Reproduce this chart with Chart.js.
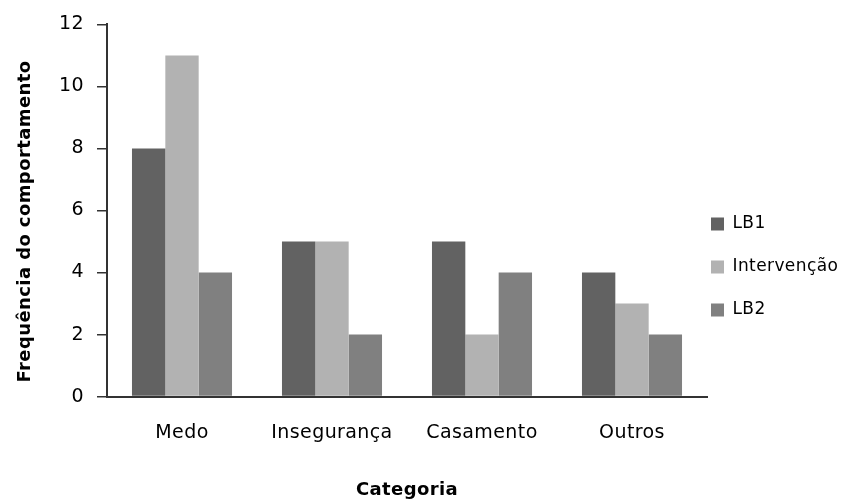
<!DOCTYPE html>
<html lang="pt">
<head>
<meta charset="utf-8">
<title>Frequência do comportamento por categoria</title>
<script src="https://cdn.jsdelivr.net/npm/chart.js@4"></script>
<style>
    html, body { margin: 0; padding: 0; background: #fff; overflow: hidden; }
    #grafico { display: block; }
</style>
</head>
<body>
<canvas id="grafico" width="866" height="503"></canvas>
<script>
/* =======================
   DADOS
======================= */

const categorias = ["Medo", "Insegurança", "Casamento", "Outros"];

const lb1 = [8, 5, 5, 4];
const intervencao = [11, 5, 2, 3];
const lb2 = [4, 2, 4, 2];

const ticksY = [0, 2, 4, 6, 8, 10, 12];

/* =======================
   ESTILO
======================= */

const FONTE = "'DejaVu Sans', sans-serif";
const ESPACO_LETRAS = "0.4px";
const COR_TEXTO = "#000";
const COR_EIXO = "#333";

// o texto do original é largo: um pouco de espaço entre letras
const espacamento = {
    id: "espacamento",
    beforeLayout(chart) { chart.ctx.letterSpacing = ESPACO_LETRAS; },
    beforeDraw(chart) { chart.ctx.letterSpacing = ESPACO_LETRAS; }
};

// legenda encostada ao gráfico, a meia altura
const legendaPos = {
    id: "legendaPos",
    afterLayout(chart) {
        const lg = chart.legend;
        const pad = lg.options.labels.padding;
        const w = lg.width;
        lg.left = chart.chartArea.right + 4 - pad;
        lg.right = lg.left + w;
        lg.top = chart.chartArea.top + 191 - pad;
    }
};

// título do eixo y um pouco abaixo do centro, como no original
const tituloY = {
    id: "tituloY",
    beforeDraw(chart) {
        const s = chart.scales.y;
        if (s._tituloDesviado) return;
        const orig = s.drawTitle.bind(s);
        s.drawTitle = function () {
            chart.ctx.save();
            chart.ctx.translate(0, 11);
            orig();
            chart.ctx.restore();
        };
        s._tituloDesviado = true;
    }
};

/* =======================
   GRÁFICO
======================= */

new Chart(document.getElementById("grafico"), {
    type: "bar",
    data: {
        labels: categorias,
        datasets: [
            { label: "LB1", data: lb1, backgroundColor: "#626262" },
            { label: "Intervenção", data: intervencao, backgroundColor: "#b2b2b2" },
            { label: "LB2", data: lb2, backgroundColor: "#808080" }
        ]
    },
    options: {
        responsive: false,
        animation: false,
        devicePixelRatio: 1,
        datasets: {
            bar: { barPercentage: 1, categoryPercentage: 0.667, borderWidth: 0 }
        },
        layout: { padding: { top: 22, right: 0, bottom: 0, left: 0 } },
        scales: {
            x: {
                grid: { display: false, drawTicks: false, tickLength: 0 },
                border: { display: true, color: COR_EIXO, width: 2 },
                ticks: {
                    color: COR_TEXTO,
                    padding: 25,
                    font: { family: FONTE, size: 19 }
                },
                title: {
                    display: true,
                    text: "Categoria",
                    color: COR_TEXTO,
                    padding: { top: 10, bottom: 2 },
                    font: { family: FONTE, size: 18, weight: "bold" }
                }
            },
            y: {
                min: 0,
                max: 12,
                afterBuildTicks(scale) {
                    scale.ticks = ticksY.map(v => ({ value: v }));
                },
                afterFit(scale) { scale.width = 107; },
                grid: {
                    drawOnChartArea: false,
                    drawTicks: true,
                    tickLength: 10,
                    color: COR_EIXO,
                    lineWidth: 1.5
                },
                border: { display: true, color: COR_EIXO, width: 2 },
                ticks: {
                    color: COR_TEXTO,
                    padding: 13,
                    font: { family: FONTE, size: 19 }
                },
                title: {
                    display: true,
                    text: "Frequência do comportamento",
                    color: COR_TEXTO,
                    padding: { top: 15, bottom: 4 },
                    font: { family: FONTE, size: 18, weight: "bold" }
                }
            }
        },
        plugins: {
            legend: {
                position: "right",
                align: "start",
                maxWidth: 159,
                labels: {
                    color: COR_TEXTO,
                    boxWidth: 13,
                    boxHeight: 13,
                    padding: 26,
                    font: { family: FONTE, size: 17 }
                }
            },
            tooltip: { enabled: false }
        }
    },
    plugins: [espacamento, legendaPos, tituloY]
});
</script>
</body>
</html>
